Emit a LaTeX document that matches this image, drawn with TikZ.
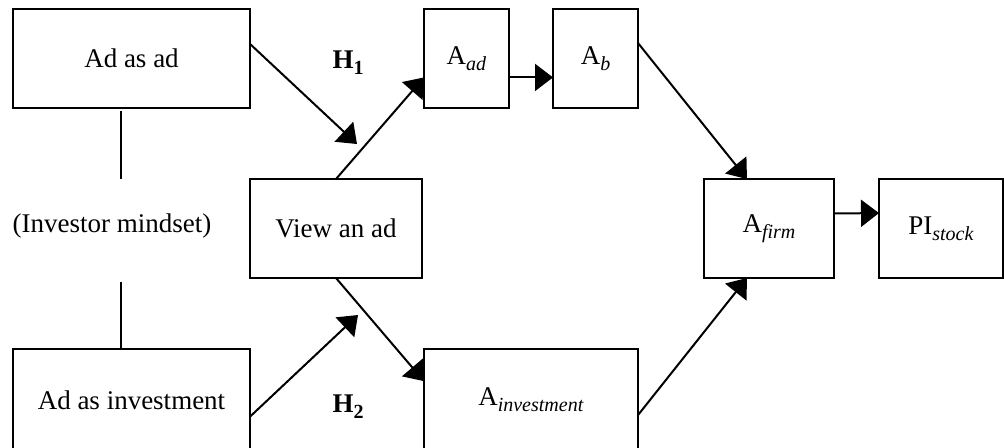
\documentclass[tikz,border=0pt]{standalone}
\usepackage{fontspec}
\setmainfont{Liberation Serif}
\usetikzlibrary{arrows.meta}
\newcommand{\lowtxt}[1]{\raisebox{-3pt}{\fontsize{10}{12}\selectfont #1}}
\begin{document}
\begin{tikzpicture}[x=0.5pt,y=-0.5pt,font=\fontsize{13.5}{16}\selectfont,
  box/.style={draw,line width=1pt,inner sep=0pt,outer sep=0pt,minimum height=49.5pt},
  arr/.style={-{Triangle[length=9pt,width=13.5pt]},line width=1pt}]
\useasboundingbox (0,0) rectangle (1004,447);
%% left column
\node[box,minimum width=118.5pt] (adad) at (131.5,58.5) {Ad as ad};
\node (mind) at (112,226) {(Investor mindset)};
\node[box,minimum width=118.5pt,minimum height=51pt] (adinv) at (131.5,400) {Ad as investment};
\coordinate (m1) at (121,179);
\coordinate (m2) at (121,282);
\draw[line width=1pt] (adad.south -| m1) ++(0,3) -- (m1);
\draw[line width=1pt] (m2) -- (adinv.north -| m2);
%% middle
\node[box,minimum width=86pt] (view) at (336,228.5) {View an ad};
\node (h1) at (348,63) {\textbf{H\lowtxt{\textbf{1}}}};
\node (h2) at (348,407) {\textbf{H\lowtxt{\textbf{2}}}};
\coordinate (t1) at (357,144);
\coordinate (t2) at (358,315);
\draw[arr] (adad.7.5) -- (t1);
\draw[arr] (adinv.-8.2) -- (t2);
%% attitudes
\node[box,minimum width=42.5pt] (aad) at (466.5,58.5) {A\lowtxt{\textit{ad}}};
\node[box,minimum width=42.5pt] (ab) at (595.5,58.5) {A\lowtxt{\textit{b}}};
\node[box,minimum width=107pt,minimum height=51pt] (ainv) at (531,400) {A\lowtxt{\textit{investment}}};
\node[box,minimum width=65pt] (afirm) at (769,228.5) {A\lowtxt{\textit{firm}}};
\node[box,minimum width=62pt] (pi) at (941,228.5) {PI\lowtxt{\textit{stock}}};
\draw[arr] (view.north) -- (aad.204.6);
\draw[arr] (aad.-24.6) -- (ab.204.6);
\draw[arr] (view.south) -- (ainv.170.5);
\draw[arr] (ab.20) -- (afirm.114);
\draw[arr] (ainv.-8.5) -- (afirm.246);
\draw[arr] (afirm.13.4) -- (pi.166);
\end{tikzpicture}
\end{document}
